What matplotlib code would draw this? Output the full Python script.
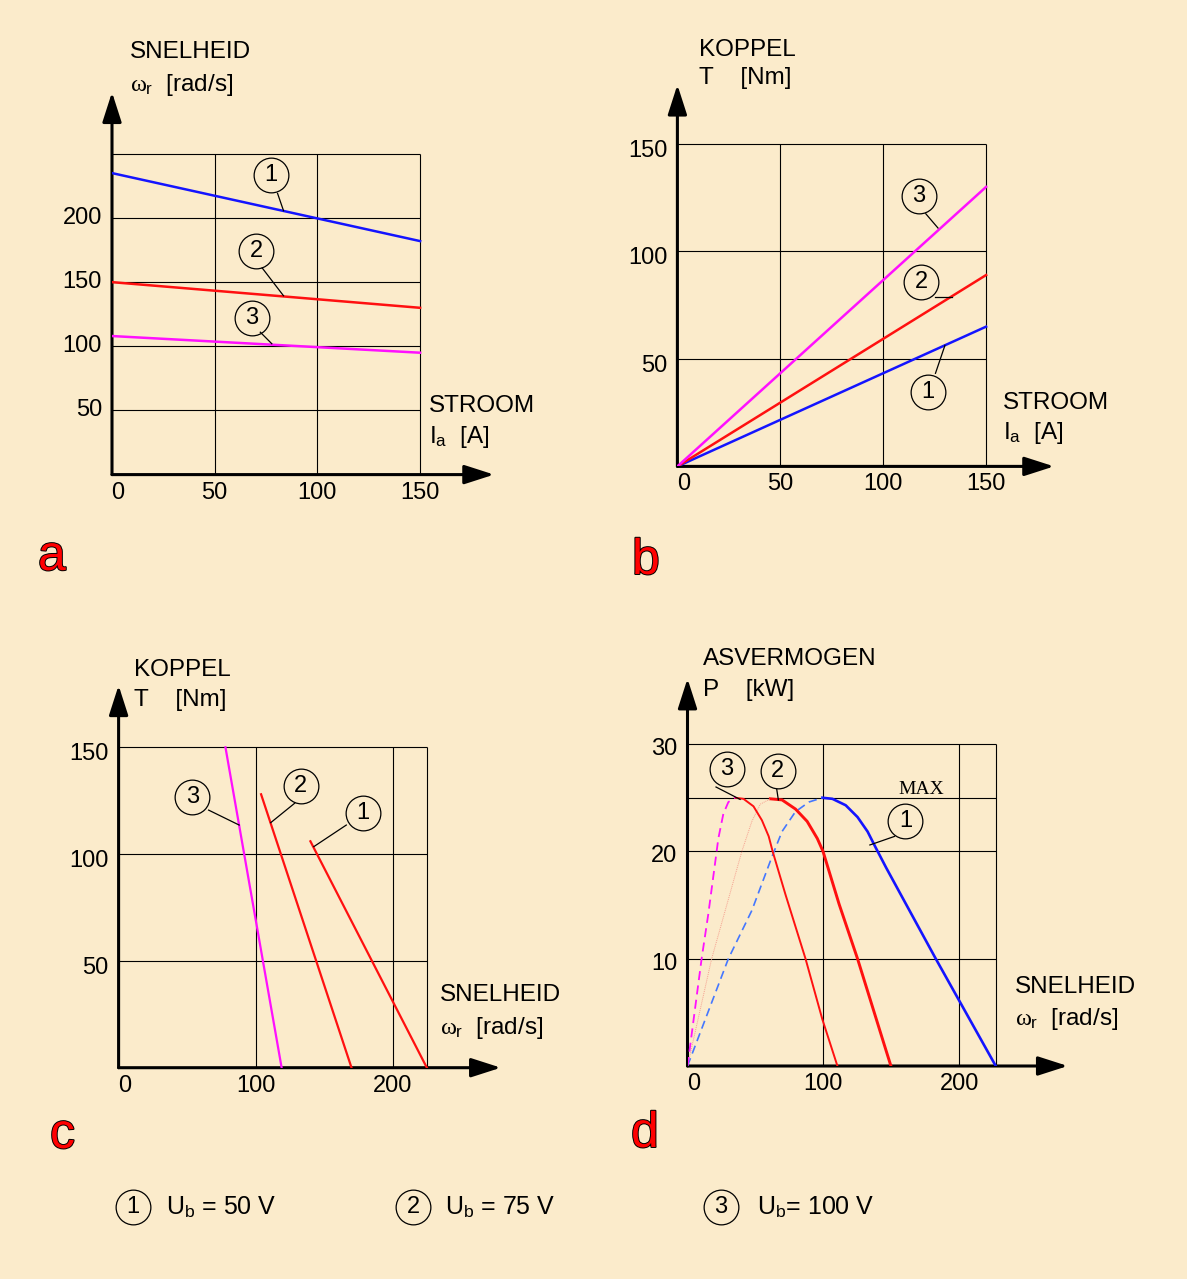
import matplotlib.pyplot as plt
from matplotlib import patheffects

plt.rcParams['font.family'] = ['Liberation Sans', 'DejaVu Sans']
plt.rcParams['mathtext.fontset'] = 'custom'
plt.rcParams['mathtext.rm'] = 'Liberation Sans'
plt.rcParams['mathtext.it'] = 'Liberation Serif'

# --- data ---
# a: speed vs armature current
a_current = [0, 150]
a_speed_1 = [235, 182]
a_speed_2 = [150, 130]
a_speed_3 = [108, 95]
a_xticks = [0, 50, 100, 150]
a_yticks = [50, 100, 150, 200]

# b: torque vs armature current
b_current = [0, 150]
b_torque_1 = [0, 65]
b_torque_2 = [0, 89]
b_torque_3 = [0, 130]
b_xticks = [0, 50, 100, 150]
b_yticks = [50, 100, 150]

# c: torque vs speed
c_speed_1 = [140, 225]
c_torque_1 = [106, 0]
c_speed_2 = [104, 170]
c_torque_2 = [128, 0]
c_speed_3 = [78, 119]
c_torque_3 = [150, 0]
c_xticks = [0, 100, 200]
c_yticks = [50, 100, 150]

# d: shaft power vs speed
d_speed_1 = [99.3, 106.7, 116.5, 125.2, 132.6, 138.8, 146.2, 182.8, 227]
d_power_1 = [25, 24.9, 24.3, 23.2, 21.85, 20.3, 18.5, 10, 0]
d_speed_1_rise = [0, 30.1, 47.4, 62.2, 69.6, 79.5, 89.4, 99.3]
d_power_1_rise = [0, 10, 14.5, 19.5, 21.85, 23.7, 24.6, 25]
d_speed_2 = [61, 69.6, 79.5, 88.1, 95.6, 99.8, 111.6, 125.2, 146.2, 149.8]
d_power_2 = [24.9, 24.8, 23.95, 22.8, 21.2, 20, 15.1, 10, 1.45, 0]
d_speed_2_rise = [0, 17.8, 40, 47.4, 53.6, 61]
d_power_2_rise = [0, 10, 20, 22.8, 24.4, 24.9]
d_speed_3 = [35, 41.2, 48.6, 54.8, 59.8, 62.7, 72.1, 86.9, 99.3, 110.4]
d_power_3 = [25, 24.9, 24.2, 22.9, 21.4, 20, 16, 10, 4.35, 0]
d_speed_3_rise = [0, 10.4, 15.3, 20.2, 22.7, 26.4, 30.1, 35]
d_power_3_rise = [0, 10, 14.15, 18.8, 21.2, 23.5, 24.6, 25]
d_xticks = [0, 100, 200]
d_yticks = [10, 20, 30]

legend_labels = ['U$_\\mathrm{b}$ = 50 V', 'U$_\\mathrm{b}$ = 75 V', 'U$_\\mathrm{b}$= 100 V']

BLUE = '#1414FF'
RED = '#FF1010'
MAGENTA = '#FF10FF'
BG = '#FBEBCB'

W, H = 1187, 1279
fig = plt.figure(figsize=(W / 100, H / 100), dpi=100, facecolor=BG)

# overlay in pixel coordinates for free text
ov = fig.add_axes([0, 0, 1, 1])
ov.set_xlim(0, W)
ov.set_ylim(H, 0)
ov.axis('off')


def panel(ox, oy, sx, sy, xmax, ymax):
    ax = fig.add_axes([ox / W, 1 - oy / H, xmax * sx / W, ymax * sy / H])
    ax.set_xlim(0, xmax)
    ax.set_ylim(0, ymax)
    ax.patch.set_visible(False)
    for s in ax.spines.values():
        s.set_visible(False)
    ax.set_xticks([])
    ax.set_yticks([])
    arrow = dict(arrowstyle='-|>,head_length=1.4,head_width=0.45', color='black',
                 lw=2.2, shrinkA=0, shrinkB=0, mutation_scale=13)
    ax.annotate('', xy=(xmax, 0), xytext=(0, 0), arrowprops=arrow, annotation_clip=False)
    ax.annotate('', xy=(0, ymax), xytext=(0, 0), arrowprops=arrow, annotation_clip=False)
    return ax


def grid(ax, xs, ys, xr, yt):
    ax.vlines(xs, 0, yt, color='black', lw=0.8, zorder=1)
    ax.hlines(ys, 0, xr, color='black', lw=0.8, zorder=1)


def ticks(ax, xt, yt, ydrop=0):
    for v in xt:
        dx = 6 if v == 0 else 0
        ax.annotate(str(v), xy=(v, 0), xytext=(dx, -18), textcoords='offset pixels',
                    ha='center', va='center', fontsize=17, annotation_clip=False)
    for v in yt:
        ax.annotate(str(v), xy=(0, v), xytext=(-10, -ydrop), textcoords='offset pixels',
                    ha='right', va='center', fontsize=17, annotation_clip=False)


def callout(ax, num, center, start, end):
    ax.plot([start[0], end[0]], [start[1], end[1]], color='black', lw=0.9, zorder=4)
    ax.plot(center[0], center[1], 'o', ms=25, mfc='none', mec='black', mew=0.9,
            zorder=4, clip_on=False)
    ax.text(center[0], center[1], num, ha='center', va='center', fontsize=17,
            zorder=5, clip_on=False)


# ---------------- a ----------------
ax = panel(112, 474.6, 2.054, 1.283, 186, 298)
grid(ax, [50, 100, 150], [50, 100, 150, 200, 250], 150, 250)
ax.plot(a_current, a_speed_1, color=BLUE, lw=1.8, zorder=3)
ax.plot(a_current, a_speed_2, color=RED, lw=1.8, zorder=3)
ax.plot(a_current, a_speed_3, color=MAGENTA, lw=1.8, zorder=3)
ticks(ax, a_xticks, a_yticks)
callout(ax, '1', (77.4, 233.5), (80.6, 219.2), (83.5, 205.7))
callout(ax, '2', (70.3, 174.3), (73.1, 161.1), (83.5, 139.4))
callout(ax, '3', (68.1, 121.7), (72.2, 111), (77.8, 102))

# ---------------- b ----------------
ax = panel(677.4, 466.4, 2.058, 2.15, 183, 177.5)
grid(ax, [50, 100, 150], [50, 100, 150], 150, 150)
ax.plot(b_current, b_torque_1, color=BLUE, lw=1.8, zorder=3)
ax.plot(b_current, b_torque_2, color=RED, lw=1.8, zorder=3)
ax.plot(b_current, b_torque_3, color=MAGENTA, lw=1.8, zorder=3)
ticks(ax, b_xticks, b_yticks, ydrop=7)
callout(ax, '3', (117.4, 126), (120.7, 117.5), (126.6, 110.9))
callout(ax, '2', (118.5, 85.6), (125.4, 79), (133.3, 79))
callout(ax, '1', (121.9, 34.4), (125.4, 43.3), (130, 56.3))

# ---------------- c ----------------
ax = panel(118.6, 1067.7, 1.37, 2.136, 279, 179)
grid(ax, [100, 200, 225], [50, 100, 150], 225, 150)
ax.plot(c_speed_1, c_torque_1, color=RED, lw=1.6, zorder=3)
ax.plot(c_speed_2, c_torque_2, color=RED, lw=1.6, zorder=3)
ax.plot(c_speed_3, c_torque_3, color=MAGENTA, lw=1.6, zorder=3)
ticks(ax, c_xticks, c_yticks, ydrop=7)
callout(ax, '3', (53.9, 126.6), (65.7, 120.6), (88, 113.6))
callout(ax, '2', (133, 132), (128.5, 123.8), (111, 114.7))
callout(ax, '1', (178.5, 119.1), (166.2, 113.6), (142.5, 103.5))

# ---------------- d ----------------
ax = panel(687.5, 1066, 1.358, 10.73, 280, 36.1)
grid(ax, [100, 200, 227], [10, 20, 25, 30], 227, 30)
ax.plot(d_speed_1, d_power_1, color=BLUE, lw=1.9, zorder=3, solid_joinstyle='round')
ax.plot(d_speed_1_rise, d_power_1_rise, color='#4477FF', lw=1.2, ls=(0, (5, 3)), zorder=3)
ax.plot(d_speed_2, d_power_2, color=RED, lw=2.1, zorder=3, solid_joinstyle='round')
ax.plot(d_speed_2_rise, d_power_2_rise, color='#F5A090', lw=0.7, ls=(0, (1, 1)), zorder=3)
ax.plot(d_speed_3, d_power_3, color=RED, lw=1.4, zorder=3, solid_joinstyle='round')
ax.plot(d_speed_3_rise, d_power_3_rise, color=MAGENTA, lw=1.3, ls=(0, (5, 3)), zorder=3)
ticks(ax, d_xticks, d_yticks, ydrop=5)
callout(ax, '3', (28.9, 27.65), (21, 26.0), (38.7, 24.85))
callout(ax, '2', (66.4, 27.5), (65.7, 25.8), (66.9, 24.8))
callout(ax, '1', (160.4, 22.8), (152.5, 21.4), (134.3, 20.6))
ov.text(898, 789, 'MAX', family='Liberation Serif', fontsize=14, va='center', ha='left')

# ---------------- axis titles ----------------
titles = [
    (130, 52, 'SNELHEID'), (130, 85, r'$\omega_\mathrm{r}$  [rad/s]'),
    (429, 406, 'STROOM'), (429, 437, r'I$_\mathrm{a}$  [A]'),
    (699, 50, 'KOPPEL'), (699, 78, 'T    [Nm]'),
    (1003, 403, 'STROOM'), (1003, 433, r'I$_\mathrm{a}$  [A]'),
    (134, 670, 'KOPPEL'), (134, 700, 'T    [Nm]'),
    (440, 995, 'SNELHEID'), (440, 1028, r'$\omega_\mathrm{r}$  [rad/s]'),
    (703, 659, 'ASVERMOGEN'), (703, 690, 'P    [kW]'),
    (1015, 987, 'SNELHEID'), (1015, 1019, r'$\omega_\mathrm{r}$  [rad/s]'),
]
for x, y, s in titles:
    ov.text(x, y, s, fontsize=17.5, ha='left', va='center')

# panel letters
stroke = [patheffects.withStroke(linewidth=1.4, foreground='black')]
for x, y, s in [(38, 570, 'a'), (632, 574, 'b'), (50, 1148, 'c'), (631, 1147, 'd')]:
    ov.text(x, y, s, fontsize=36, color='red', ha='left', va='baseline', path_effects=stroke)

# legend row
for (cx, tx), lab, num in zip([(133, 166), (413, 445), (721, 757)], legend_labels, ['1', '2', '3']):
    ov.plot(cx, 1207, 'o', ms=25, mfc='none', mec='black', mew=0.9)
    ov.text(cx, 1207, num, ha='center', va='center', fontsize=17)
    ov.text(tx, 1207, lab, ha='left', va='center', fontsize=18)

fig.savefig('out.png', dpi=100, facecolor=BG)
